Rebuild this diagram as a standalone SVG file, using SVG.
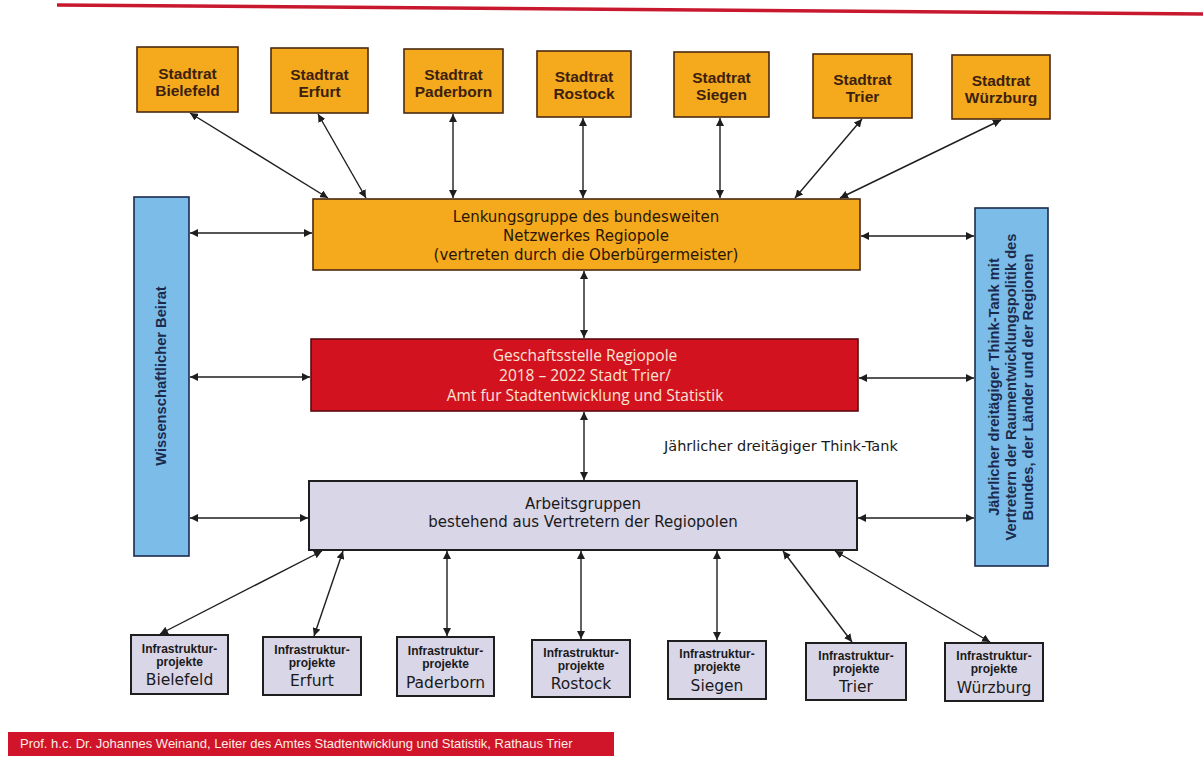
<svg xmlns="http://www.w3.org/2000/svg" width="1203" height="759" viewBox="0 0 1203 759">
<style>
.stadt rect{fill:#f4aa1c;stroke:#4a2a10;stroke-width:1.6}
.stadt text{font-family:"Liberation Sans",Arial,sans-serif;font-weight:bold;font-size:15.5px;fill:#3d1f0f;text-anchor:middle}
.infra rect{fill:#d9d6e8;stroke:#1e1e1e;stroke-width:2}
.infra text{fill:#1a1a1a;text-anchor:middle}
.t1{font-family:"Liberation Sans",Arial,sans-serif;font-weight:bold;font-size:12px}
.t2{font-family:"DejaVu Sans",Verdana,sans-serif;font-size:15.5px}
.big{font-family:"DejaVu Sans",Verdana,sans-serif;font-size:15px;text-anchor:middle}
.vert{font-family:"Liberation Sans",Arial,sans-serif;font-weight:bold;font-size:14.7px;fill:#1c2a4e;text-anchor:middle}
.conn line{stroke:#1e1e1e;stroke-width:1.4;marker-start:url(#ah);marker-end:url(#ah)}
</style>
<defs>
<marker id="ah" viewBox="0 0 10 10" refX="10" refY="5" markerWidth="8" markerHeight="8" markerUnits="userSpaceOnUse" orient="auto-start-reverse">
<path d="M0,0 L10,5 L0,10 z" fill="#1e1e1e"/>
</marker>
</defs>
<rect width="1203" height="759" fill="#ffffff"/>
<line x1="57" y1="5" x2="1203" y2="14" stroke="#c8182e" stroke-width="3.5"/>

<g id="stadtrat-bielefeld" class="stadt"><rect x="137" y="47" width="101" height="65"/><text x="187.5" y="79">Stadtrat</text><text x="187.5" y="96">Bielefeld</text></g>
<g id="stadtrat-erfurt" class="stadt"><rect x="271" y="48" width="97" height="65"/><text x="319.5" y="80">Stadtrat</text><text x="319.5" y="97">Erfurt</text></g>
<g id="stadtrat-paderborn" class="stadt"><rect x="404" y="49" width="99" height="64"/><text x="453.5" y="80">Stadtrat</text><text x="453.5" y="97">Paderborn</text></g>
<g id="stadtrat-rostock" class="stadt"><rect x="537" y="51" width="94" height="66"/><text x="584" y="82">Stadtrat</text><text x="584" y="99">Rostock</text></g>
<g id="stadtrat-siegen" class="stadt"><rect x="674" y="52" width="95" height="65"/><text x="721.5" y="83">Stadtrat</text><text x="721.5" y="100">Siegen</text></g>
<g id="stadtrat-trier" class="stadt"><rect x="813" y="54" width="99" height="64"/><text x="862.5" y="85">Stadtrat</text><text x="862.5" y="102">Trier</text></g>
<g id="stadtrat-wuerzburg" class="stadt"><rect x="952" y="55" width="98" height="64"/><text x="1001" y="86">Stadtrat</text><text x="1001" y="103">Würzburg</text></g>

<g id="lenkungsgruppe"><rect x="313" y="199" width="547" height="71" fill="#f4aa1c" stroke="#4a2a10" stroke-width="1.6"/>
<text class="big" fill="#2a1608"><tspan x="586" y="222">Lenkungsgruppe des bundesweiten</tspan><tspan x="586" y="241">Netzwerkes Regiopole</tspan><tspan x="586" y="260">(vertreten durch die Oberbürgermeister)</tspan></text></g>

<g id="geschaeftsstelle"><rect x="311" y="339" width="547" height="72" fill="#d2131f" stroke="#5a0a10" stroke-width="1.6"/>
<text font-family="'Open Sans','Noto Sans',sans-serif" font-size="15.5px" fill="#f8e4d4" text-anchor="middle"><tspan x="585" y="361">Geschaftsstelle Regiopole</tspan><tspan x="585" y="381">2018 – 2022 Stadt Trier/</tspan><tspan x="585" y="401">Amt fur Stadtentwicklung und Statistik</tspan></text></g>

<g id="arbeitsgruppen"><rect x="309" y="481" width="548" height="69" fill="#d9d6e8" stroke="#1e1e1e" stroke-width="2"/>
<text class="big" font-size="13.8px" fill="#1a1a1a"><tspan x="583" y="509">Arbeitsgruppen</tspan><tspan x="583" y="527">bestehend aus Vertretern der Regiopolen</tspan></text></g>

<g id="wissenschaftlicher-beirat"><rect x="134" y="197" width="55" height="359" fill="#7bbde8" stroke="#1c2a4e" stroke-width="1.6"/>
<text class="vert" font-size="16px" transform="translate(166,376) rotate(-90)">Wissenschaftlicher Beirat</text></g>

<g id="think-tank-box"><rect x="975" y="208" width="73" height="358" fill="#7bbde8" stroke="#1c2a4e" stroke-width="1.6"/>
<text class="vert" transform="translate(1011.5,387) rotate(-90)"><tspan x="0" y="-13">Jährlicher dreitägiger Think-Tank mit</tspan><tspan x="0" y="4">Vertretern der Raumentwicklungspolitik des</tspan><tspan x="0" y="21">Bundes, der Länder und der Regionen</tspan></text></g>

<g id="think-tank-label"><text x="664" y="451" font-family="'DejaVu Sans',Verdana,sans-serif" font-size="14.5px" fill="#1a1a1a">Jährlicher dreitägiger Think-Tank</text></g>

<g id="infra-bielefeld" class="infra"><rect x="131" y="635" width="97" height="59"/><text class="t1" x="179.5" y="653">Infrastruktur-</text><text class="t1" x="179.5" y="666">projekte</text><text class="t2" x="179.5" y="685">Bielefeld</text></g>
<g id="infra-erfurt" class="infra"><rect x="263" y="637" width="98" height="58"/><text class="t1" x="312" y="654">Infrastruktur-</text><text class="t1" x="312" y="667">projekte</text><text class="t2" x="312" y="686">Erfurt</text></g>
<g id="infra-paderborn" class="infra"><rect x="397" y="637" width="97" height="59"/><text class="t1" x="445.5" y="655">Infrastruktur-</text><text class="t1" x="445.5" y="668">projekte</text><text class="t2" x="445.5" y="688">Paderborn</text></g>
<g id="infra-rostock" class="infra"><rect x="532" y="640" width="98" height="57"/><text class="t1" x="581" y="657">Infrastruktur-</text><text class="t1" x="581" y="670">projekte</text><text class="t2" x="581" y="689">Rostock</text></g>
<g id="infra-siegen" class="infra"><rect x="668" y="641" width="98" height="58"/><text class="t1" x="717" y="658">Infrastruktur-</text><text class="t1" x="717" y="671">projekte</text><text class="t2" x="717" y="691">Siegen</text></g>
<g id="infra-trier" class="infra"><rect x="806" y="643" width="100" height="57"/><text class="t1" x="856" y="660">Infrastruktur-</text><text class="t1" x="856" y="673">projekte</text><text class="t2" x="856" y="692">Trier</text></g>
<g id="infra-wuerzburg" class="infra"><rect x="945" y="643" width="98" height="58"/><text class="t1" x="994" y="660">Infrastruktur-</text><text class="t1" x="994" y="673">projekte</text><text class="t2" x="994" y="693">Würzburg</text></g>

<g id="connectors" class="conn">
<line x1="190" y1="113" x2="328" y2="198"/>
<line x1="318" y1="114" x2="366" y2="198"/>
<line x1="453" y1="114" x2="453" y2="198"/>
<line x1="583" y1="118" x2="583" y2="198"/>
<line x1="720" y1="118" x2="720" y2="198"/>
<line x1="862" y1="119" x2="795" y2="198"/>
<line x1="1001" y1="120" x2="840" y2="198"/>
<line x1="190" y1="233" x2="312" y2="233"/>
<line x1="190" y1="377" x2="310" y2="377"/>
<line x1="190" y1="518" x2="308" y2="518"/>
<line x1="861" y1="236" x2="974" y2="236"/>
<line x1="859" y1="378" x2="974" y2="378"/>
<line x1="858" y1="518" x2="974" y2="518"/>
<line x1="584" y1="271" x2="584" y2="338"/>
<line x1="584" y1="412" x2="584" y2="480"/>
<line x1="322" y1="551" x2="160" y2="634"/>
<line x1="343" y1="551" x2="314" y2="636"/>
<line x1="447" y1="551" x2="447" y2="636"/>
<line x1="581" y1="551" x2="581" y2="639"/>
<line x1="717" y1="551" x2="717" y2="640"/>
<line x1="783" y1="551" x2="852" y2="642"/>
<line x1="835" y1="551" x2="990" y2="642"/>
</g>

<g id="footer"><rect x="8" y="732" width="606" height="24" fill="#d0142a"/>
<text x="20" y="748" font-family="'Liberation Sans',Arial,sans-serif" font-size="13px" fill="#fbeee6">Prof. h.c. Dr. Johannes Weinand, Leiter des Amtes Stadtentwicklung und Statistik, Rathaus Trier</text></g>
</svg>
